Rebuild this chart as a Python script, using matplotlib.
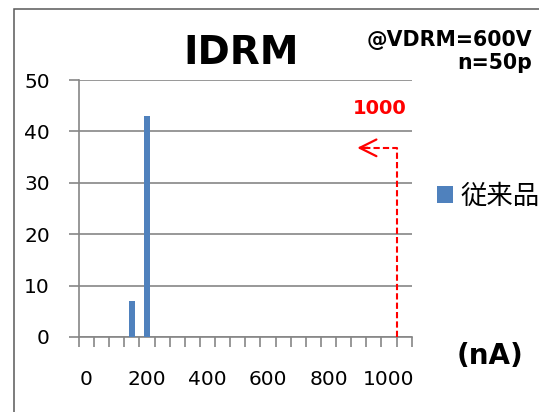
import numpy as np
import matplotlib
matplotlib.use("Agg")
import matplotlib.pyplot as plt
from matplotlib.patches import Rectangle

""" data """
# IDRM bins (nA) and counts, n=50
bins_na = [0, 50, 100, 150, 200, 250, 300, 350, 400, 450, 500,
           550, 600, 650, 700, 750, 800, 850, 900, 950, 1000, 1050]
counts = [0, 0, 0, 7, 43, 0, 0, 0, 0, 0, 0,
          0, 0, 0, 0, 0, 0, 0, 0, 0, 0, 0]
y_ticks = [0, 10, 20, 30, 40, 50]
series_name = "従来品"

W, H = 539, 412
fig = plt.figure(figsize=(W / 100, H / 100), dpi=100)
ax = fig.add_axes([79 / W, 1 - 337 / H, (411.7 - 79) / W, (337 - 80) / H])

grid_c = "#868686"
bar_c = "#4F81BD"

x = np.arange(len(bins_na))
ax.bar(x, counts, width=0.38, color=bar_c, zorder=3, label=series_name)

ax.set_xlim(-0.5, len(bins_na) - 0.5)
ax.set_ylim(0, 50)
ax.set_yticks(y_ticks)
ax.yaxis.grid(True, color=grid_c, linewidth=1.2, zorder=0)

# category boundary ticks, labels every 4th category
ax.set_xticks(np.arange(len(bins_na) + 1) - 0.5)
ax.set_xticklabels([])
lab_idx = [i for i, b in enumerate(bins_na) if b % 200 == 0]
ax.set_xticks(lab_idx, minor=True)
ax.set_xticklabels([str(bins_na[i]) for i in lab_idx], minor=True)
ax.tick_params(axis="x", which="major", direction="out", length=7, width=1.2, color=grid_c)
ax.tick_params(axis="x", which="minor", length=0, pad=24, labelsize=14.5)
ax.tick_params(axis="y", direction="out", length=7, width=1.2, color=grid_c, pad=14, labelsize=14.5)

for s in ["top", "right"]:
    ax.spines[s].set_visible(False)
for s in ["left", "bottom"]:
    ax.spines[s].set_color(grid_c)
    ax.spines[s].set_linewidth(1.2)

# red dashed arrow (max value marker)
red = "#FF0000"
dash = (0, (3, 1.5))
ax.plot([20.5, 20.5, 18.0], [0, 36.8, 36.8], color=red, lw=1.5, ls=dash, zorder=4)
# open arrow head, solid
ax.annotate("", xy=(17.9, 36.8), xytext=(18.6, 36.8),
            arrowprops=dict(arrowstyle="->, head_length=0.6, head_width=0.3",
                            color=red, lw=1.6, shrinkA=0, shrinkB=0,
                            mutation_scale=20), zorder=4)

""" texts """
fig.text(241 / W, 1 - 52.5 / H, "IDRM", fontsize=28, fontweight="bold",
         ha="center", va="center")
fig.text(532 / W, 1 - 39.5 / H, "@VDRM=600V", fontsize=14.8, fontweight="bold",
         ha="right", va="center")
fig.text(532 / W, 1 - 63 / H, "n=50p", fontsize=14.8, fontweight="bold",
         ha="right", va="center")
fig.text(380 / W, 1 - 108 / H, "1000", fontsize=14, fontweight="bold",
         color=red, ha="center", va="center")
fig.text(490 / W, 1 - 356 / H, "(nA)", fontsize=20, fontweight="bold",
         ha="center", va="center")

# legend
fig.legend(loc="center left", bbox_to_anchor=(437 / W, 1 - 196 / H), frameon=False,
           prop={"family": ["Noto Sans CJK JP", "DejaVu Sans"], "size": 19},
           handlelength=0.6, handleheight=0.6, handletextpad=0.3,
           borderpad=0, borderaxespad=0)

# chart border
fig.patches.append(Rectangle((13.5 / W, -0.1), 1.2, 1 - 9.5 / H + 0.1,
                             transform=fig.transFigure, fill=False,
                             edgecolor="#595959", linewidth=1.1))

fig.savefig("out.png", dpi=100)
